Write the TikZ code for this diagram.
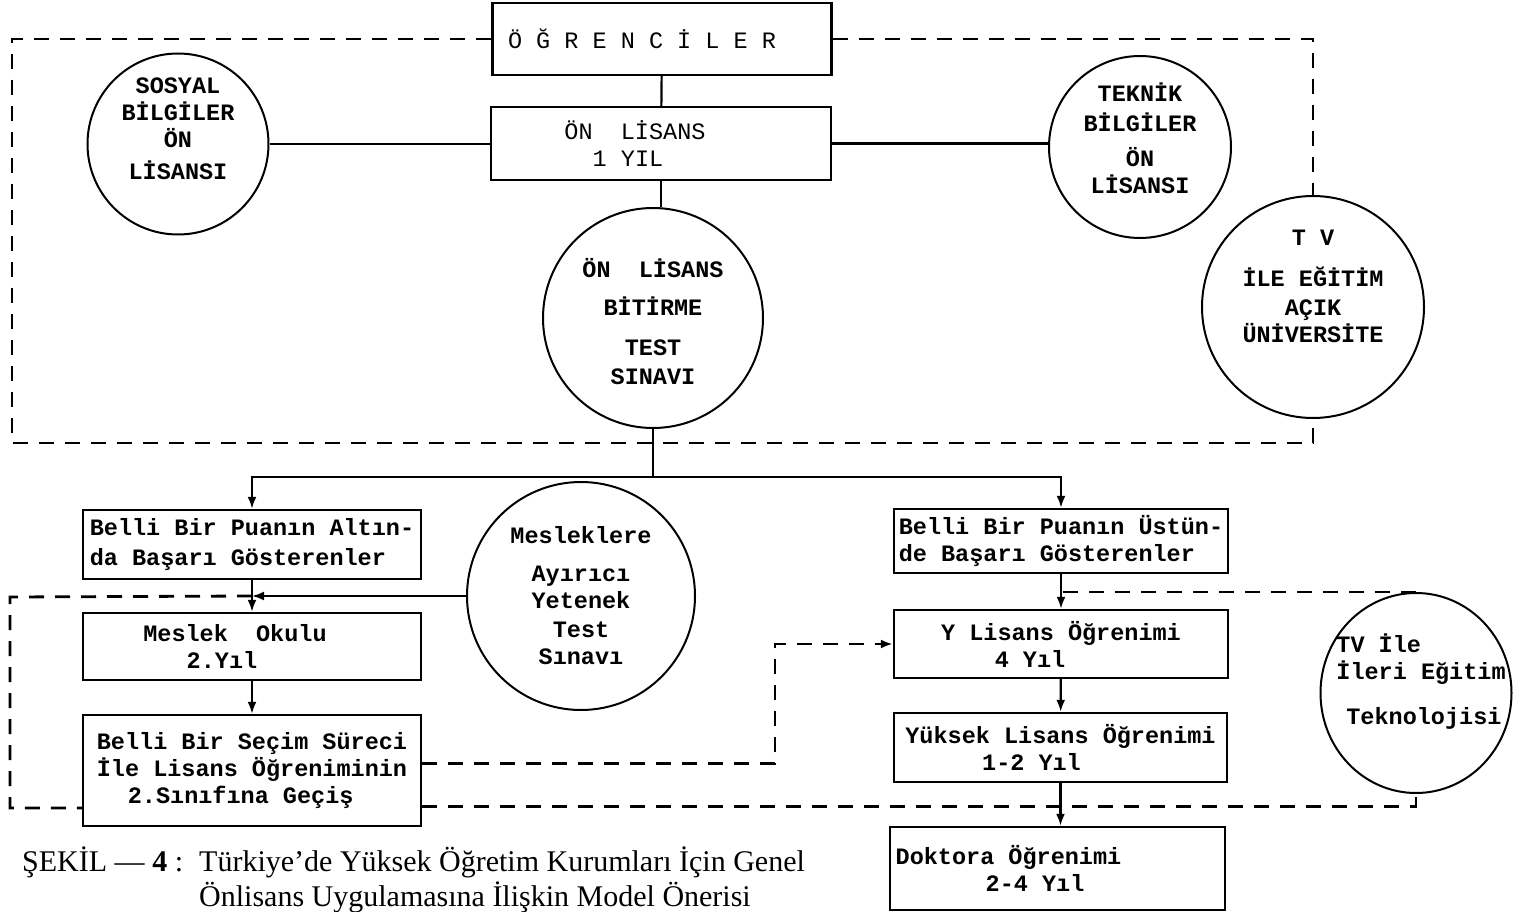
\documentclass[tikz,border=0pt]{standalone}
\usepackage{fontspec}
\setmonofont{Liberation Mono}
\newfontfamily\capfont{Liberation Serif}
\usetikzlibrary{arrows.meta,shapes.geometric}
\newcommand{\disctext}[3][c]{\raisebox{#2}[0pt][0pt]{\makebox[0pt]{\begin{tabular}{@{}#1@{}}#3\end{tabular}}}}

\begin{document}
\begin{tikzpicture}[x=1pt,y=-1pt,
          font=\ttfamily\bfseries\fontsize{23.5}{27}\selectfont,
          box/.style={draw, line width=2.4pt, inner sep=0pt, align=center},
          lightbox/.style={box, font=\ttfamily\fontsize{23.5}{27}\selectfont},
          disc/.style={draw, circle, line width=2pt, inner sep=0pt},
          conn/.style={line width=2.2pt},
          arr/.style={line width=2.2pt, -{Latex[length=12pt,width=9pt]}},
          dline/.style={line width=2.8pt, dash pattern=on 15pt off 11pt}]
        \useasboundingbox (0,0) rectangle (1527,912);
        % upper part
        \node[lightbox, minimum width=339pt, minimum height=72pt] (ogr) at (662,39) {Ö Ğ R E N C İ L E R\hspace*{40pt}};
        \node[lightbox, minimum width=340pt, minimum height=73pt] (onl) at (661,143.5) {ÖN~~LİSANS\hspace*{52pt}\\1 YIL\hspace*{66pt}};
        \node[disc, minimum size=181pt] (sos) at (178,144) {\disctext{7pt}{SOSYAL\\BİLGİLER\\ÖN\\[5pt]LİSANSI}};
        \node[disc, minimum size=182pt] (tek) at (1140,147) {\disctext{-1pt}{TEKNİK\\[3pt]BİLGİLER\\[8pt]ÖN\\LİSANSI}};
        \node[disc, minimum size=220pt] (bit) at (653,318) {\disctext{-14pt}{ÖN~~LİSANS\\[11pt]BİTİRME\\[13pt]TEST\\[2pt]SINAVI}};
        \node[disc, minimum size=222pt] (tv) at (1313,307) {\disctext{12pt}{T V\\[13pt]İLE EĞİTİM\\[2pt]AÇIK\\ÜNİVERSİTE}};
        % lower part
        \node[box, minimum width=338pt, minimum height=69pt, align=left] (alt) at (252,544.5) {Belli Bir Puanın Altın-\\[3pt]da Başarı Gösterenler};
        \node[box, minimum width=338pt, minimum height=67pt] (mlk) at (252,646.5) {Meslek~~Okulu\hspace*{34pt}\\2.Yıl\hspace*{60pt}};
        \node[box, minimum width=338pt, minimum height=111pt, align=left] (sec) at (252,770.5) {Belli Bir Seçim Süreci\\İle Lisans Öğreniminin\\\hspace*{31pt}2.Sınıfına Geçiş};
        \node[disc, minimum size=228pt] (mes) at (581,596) {\disctext{-9pt}{Mesleklere\\[11pt]Ayırıcı\\Yetenek\\[2pt]Test\\Sınavı}};
        \node[box, minimum width=334pt, minimum height=64pt, align=left] (ust) at (1061,541) {Belli Bir Puanın Üstün-\\de Başarı Gösterenler};
        \node[box, minimum width=334pt, minimum height=68pt] (ylis) at (1061,644) {Y Lisans Öğrenimi\\4 Yıl\hspace*{62pt}};
        \node[box, minimum width=333pt, minimum height=69pt] (yuk) at (1060.5,747.5) {Yüksek Lisans Öğrenimi\\1-2 Yıl\hspace*{58pt}};
        \node[box, minimum width=335pt, minimum height=83pt, align=left] (dok) at (1057.5,868.5) {Doktora Öğrenimi\hspace*{98pt}\\\hspace*{90pt}2-4 Yıl};
        \node[disc, ellipse, minimum width=191pt, minimum height=200pt] (tvi) at (1416,693) {\disctext[l]{4pt}{\hspace*{10pt}TV İle\\\hspace*{10pt}İleri Eğitim\\[18pt]\hspace*{20pt}Teknolojisi}};
        \node[anchor=base west, inner sep=0pt, font=\capfont\fontsize{30}{35}\selectfont] (cap) at (22,871)
          {\begin{tabular}[t]{@{}l@{\hspace{16pt}}l@{}}ŞEKİL — \textbf{4} : & Türkiye’de Yüksek Öğretim Kurumları İçin Genel\\ & Önlisans Uygulamasına İlişkin Model Önerisi\end{tabular}};
        % corners of the dashed lines
        \coordinate (tlc) at (12,39);
        \coordinate (blc) at (12,443);
        \coordinate (brc) at (1313,443);
        \coordinate (split) at (653,477);
        \coordinate (llt) at (10,597);
        \coordinate (llb) at (10,808);
        \coordinate (mid) at (775,763.5);
        % connectors
        \draw[dline] (ogr.west) -- (tlc) -- (blc) -- (brc) -- (tv.south);
        \draw[dline] (ogr.east) -| (tv.north);
        \draw[conn] (ogr) -- (onl);
        \draw[conn] (sos.east) -- (sos.east -| onl.west);
        \draw[conn] (onl.east) -- (onl.east -| tek.west);
        \draw[conn] (onl.south) -- (onl.south |- bit.north);
        \draw[conn] (bit) -- (split);
        \draw[arr] (split) -| (alt.north);
        \draw[arr] (split) -| (ust.north);
        \draw[arr] (alt) -- (mlk);
        \draw[arr] (mes.west) -- (mes.west -| alt.south);
        \draw[dline] (mes.west -| alt.south) -- (llt) -- (llb) -- (llb -| sec.west);
        \draw[arr] (mlk) -- (sec);
        \draw[dline,-{Latex[length=12pt,width=9pt]}] ([yshift=7pt]sec.east) -- (mid) |- (ylis.west);
        \draw[dline] ([yshift=-36pt]sec.east) -| (tvi.south);
        \draw[dline] (tvi.north) -- (tvi.north -| ust.south);
        \draw[arr] (ust) -- (ylis);
        \draw[arr] (ylis) -- (yuk);
        \draw[arr] (yuk.south) -- (yuk.south |- dok.north);
      \end{tikzpicture}
\end{document}
